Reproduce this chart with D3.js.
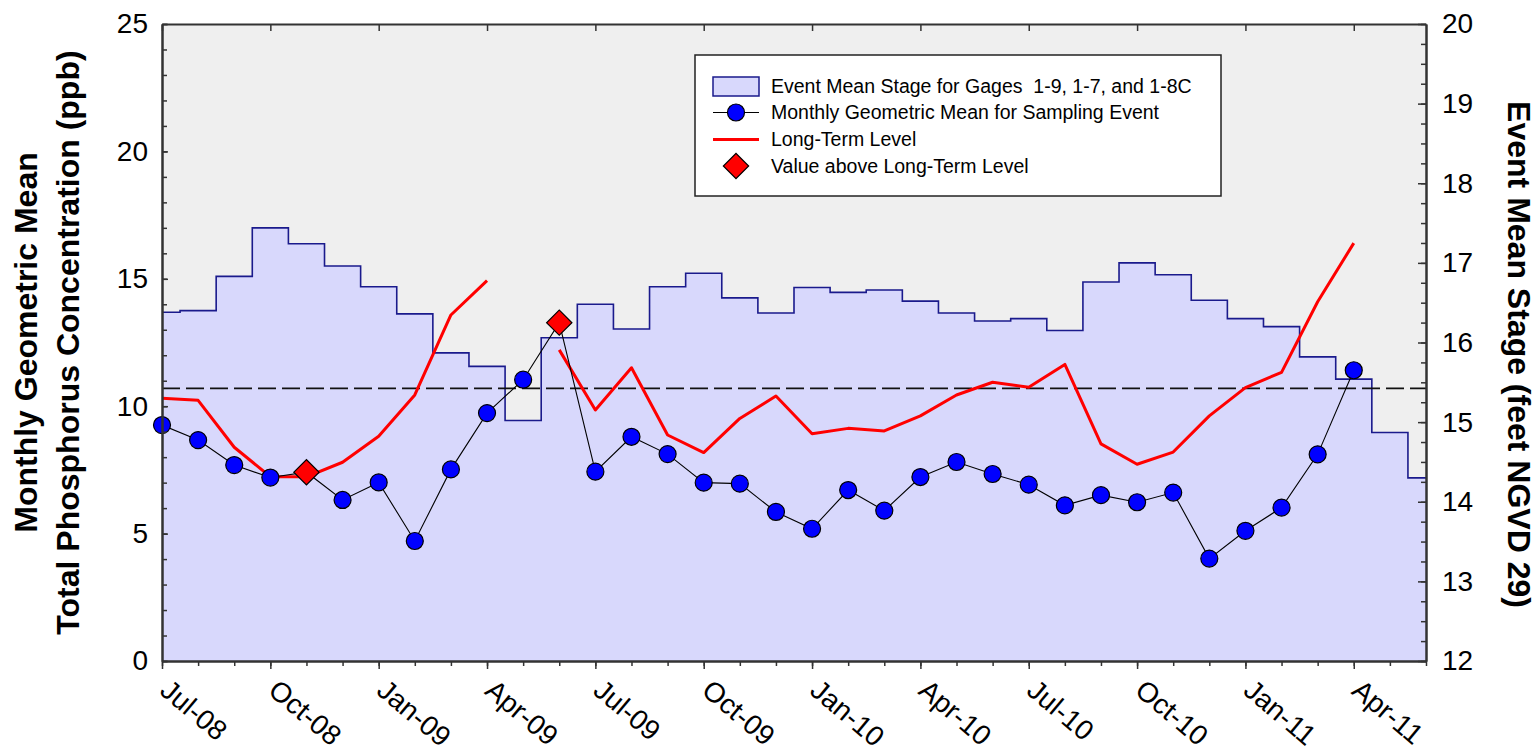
<!DOCTYPE html>
<html><head><meta charset="utf-8">
<script src="https://cdn.jsdelivr.net/npm/d3@7"></script>
<style>
body{margin:0;background:#fff;}
text{font-family:"Liberation Sans",Arial,Helvetica,sans-serif;fill:#000;}
</style>
</head><body>
<svg id="chart" width="1539" height="753"></svg>
<script>
// ---------- data ----------
const months = ["Jul-08","Aug-08","Sep-08","Oct-08","Nov-08","Dec-08","Jan-09","Feb-09","Mar-09","Apr-09","May-09","Jun-09",
                "Jul-09","Aug-09","Sep-09","Oct-09","Nov-09","Dec-09","Jan-10","Feb-10","Mar-10","Apr-10","May-10","Jun-10",
                "Jul-10","Aug-10","Sep-10","Oct-10","Nov-10","Dec-10","Jan-11","Feb-11","Mar-11","Apr-11","May-11","Jun-11"];
const xTickLabels = ["Jul-08","Oct-08","Jan-09","Apr-09","Jul-09","Oct-09","Jan-10","Apr-10","Jul-10","Oct-10","Jan-11","Apr-11"];
// Event mean stage (feet NGVD 29), right axis, one per month
const stage = [16.38,16.40,16.83,17.44,17.24,16.96,16.70,16.36,15.87,15.70,15.02,16.06,
               16.48,16.17,16.70,16.87,16.56,16.37,16.69,16.63,16.66,16.52,16.37,16.27,
               16.30,16.15,16.76,17.00,16.85,16.53,16.30,16.20,15.82,15.54,14.87,14.30];
// Monthly geometric mean TP (ppb), left axis
const geoMean = [9.26,8.67,7.69,7.20,7.41,6.32,7.01,4.71,7.52,9.73,11.04,13.28,
                 7.43,8.80,8.12,7.00,6.96,5.85,5.19,6.71,5.90,7.22,7.81,7.34,
                 6.92,6.11,6.51,6.23,6.61,4.02,5.11,6.02,8.11,11.41];
// Long-term level (ppb), left axis; null = no value
const longTerm = [10.31,10.23,8.39,7.23,7.23,7.80,8.82,10.44,13.58,14.93,null,12.21,
                  9.85,11.51,8.87,8.18,9.52,10.40,8.92,9.13,9.03,9.62,10.44,10.94,
                  10.74,11.64,8.52,7.72,8.20,9.62,10.73,11.33,14.10,16.40];
const referenceLevel = 10.7;
const leftTicks = [0,5,10,15,20,25];
const rightTicks = [12,13,14,15,16,17,18,19,20];
const legendLabels = ["Event Mean Stage for Gages  1-9, 1-7, and 1-8C",
                      "Monthly Geometric Mean for Sampling Event",
                      "Long-Term Level",
                      "Value above Long-Term Level"];

// ---------- layout ----------
const m = {l:162, r:1426, t:24, b:661};
const svg = d3.select("#chart");
const x = d3.scaleLinear().domain([0, months.length-1]).range([m.l, m.r]);
const yL = d3.scaleLinear().domain([0,25]).range([m.b, m.t]);
const yR = d3.scaleLinear().domain([12,20]).range([m.b, m.t]);

const C = {bg:"#efefef", fill:"#d8d8fc", stepLine:"#1a1a8c", red:"#ff0000", blue:"#0000ff", axis:"#333"};

svg.append("defs").append("clipPath").attr("id","clip")
  .append("rect").attr("x",m.l).attr("y",m.t).attr("width",m.r-m.l).attr("height",m.b-m.t);

svg.append("rect").attr("x",m.l).attr("y",m.t).attr("width",m.r-m.l).attr("height",m.b-m.t).attr("fill",C.bg);

const g = svg.append("g").attr("clip-path","url(#clip)");
const idx = d3.range(stage.length);
g.append("path").datum(idx)
  .attr("d", d3.area().x(i=>x(i)).y0(m.b).y1(i=>yR(stage[i])).curve(d3.curveStep))
  .attr("fill", C.fill);
g.append("path").datum(idx)
  .attr("d", d3.line().x(i=>x(i)).y(i=>yR(stage[i])).curve(d3.curveStep))
  .attr("fill","none").attr("stroke",C.stepLine).attr("stroke-width",1.6);

// reference dashed line
g.append("line").attr("x1",m.l).attr("x2",m.r)
  .attr("y1",yL(referenceLevel)).attr("y2",yL(referenceLevel))
  .attr("stroke","#111").attr("stroke-width",1.6).attr("stroke-dasharray","18,6");

// long-term level
g.append("path").datum(longTerm)
  .attr("d", d3.line().defined(d=>d!=null).x((d,i)=>x(i)).y(d=>yL(d)))
  .attr("fill","none").attr("stroke",C.red).attr("stroke-width",3).attr("stroke-linejoin","round");

// geometric mean line
g.append("path").datum(geoMean)
  .attr("d", d3.line().x((d,i)=>x(i)).y(d=>yL(d)))
  .attr("fill","none").attr("stroke","#000").attr("stroke-width",1.1);

const pts = geoMean.map((v,i)=>({i, v, above: longTerm[i]!=null && v>longTerm[i]}));
svg.append("g").selectAll("circle").data(pts.filter(d=>!d.above)).join("circle")
  .attr("cx",d=>x(d.i)).attr("cy",d=>yL(d.v)).attr("r",8.5)
  .attr("fill",C.blue).attr("stroke","#000").attr("stroke-width",1.2);
const diamond = d3.symbol(d3.symbolSquare, 320);
svg.append("g").selectAll("path").data(pts.filter(d=>d.above)).join("path")
  .attr("d", diamond)
  .attr("transform", d=>`translate(${x(d.i)},${yL(d.v)}) rotate(45)`)
  .attr("fill",C.red).attr("stroke","#000").attr("stroke-width",1.2);

// ---------- axes ----------
function styleAxis(sel){
  sel.select(".domain").attr("stroke",C.axis).attr("stroke-width",2);
  sel.selectAll(".tick line").attr("stroke",C.axis).attr("stroke-width",1.5);
  sel.selectAll(".tick text").attr("font-size",28).attr("fill","#000")
     .attr("font-family",'"Liberation Sans",Arial,sans-serif');
}
// bottom
svg.append("g").attr("transform",`translate(0,${m.b})`)
  .call(d3.axisBottom(x).tickValues(d3.range(0,months.length)).tickSize(5).tickSizeOuter(0).tickFormat(""))
  .call(styleAxis);
const bx = svg.append("g").attr("transform",`translate(0,${m.b})`)
  .call(d3.axisBottom(x).tickValues(xTickLabels.map(l=>months.indexOf(l))).tickSize(8).tickSizeOuter(0)
        .tickFormat(i=>months[i]))
  .call(styleAxis);
bx.selectAll(".tick text").attr("x",0).attr("y",0).attr("dy",0)
  .attr("text-anchor","start").attr("transform","translate(-4,32) rotate(40)");
// top
svg.append("g").attr("transform",`translate(0,${m.t})`)
  .call(d3.axisTop(x).tickValues(xTickLabels.map(l=>months.indexOf(l))).tickSize(-7).tickSizeOuter(0).tickFormat(""))
  .call(styleAxis);
// left
svg.append("g").attr("transform",`translate(${m.l},0)`)
  .call(d3.axisLeft(yL).tickValues(d3.range(0,26)).tickSize(-5).tickSizeOuter(0).tickFormat(""))
  .call(styleAxis);
svg.append("g").attr("transform",`translate(${m.l},0)`)
  .call(d3.axisLeft(yL).tickValues(leftTicks).tickSize(-6).tickSizeOuter(0).tickPadding(14).tickFormat(d3.format("d")))
  .call(styleAxis);
// right
svg.append("g").attr("transform",`translate(${m.r},0)`)
  .call(d3.axisRight(yR).tickValues(d3.range(12,20.001,0.25)).tickSize(-5).tickSizeOuter(0).tickFormat(""))
  .call(styleAxis);
svg.append("g").attr("transform",`translate(${m.r},0)`)
  .call(d3.axisRight(yR).tickValues(rightTicks).tickSize(-8).tickSizeOuter(0).tickPadding(16).tickFormat(d3.format("d")))
  .call(styleAxis);

// ---------- titles ----------
const tl = svg.append("text").attr("transform",`translate(0,${(m.t+m.b)/2}) rotate(-90)`)
  .attr("text-anchor","middle").attr("font-weight","bold").attr("font-size",32);
tl.append("tspan").attr("x",0).attr("y",37).text("Monthly Geometric Mean");
tl.append("tspan").attr("x",0).attr("y",79).text("Total Phosphorus Concentration (ppb)");
svg.append("text").attr("transform",`translate(1508,${(m.t+m.b)/2+12}) rotate(90)`)
  .attr("text-anchor","middle").attr("font-weight","bold").attr("font-size",32)
  .text("Event Mean Stage (feet NGVD 29)");

// ---------- legend ----------
const lg = svg.append("g");
lg.append("rect").attr("x",695).attr("y",55).attr("width",526).attr("height",141)
  .attr("fill","#fff").attr("stroke","#222").attr("stroke-width",1.5);
const rowY = [86.5, 112.5, 139.5, 166];
lg.append("rect").attr("x",713).attr("y",77).attr("width",46).attr("height",19)
  .attr("fill",C.fill).attr("stroke",C.stepLine).attr("stroke-width",1.5);
lg.append("line").attr("x1",713).attr("x2",759).attr("y1",rowY[1]).attr("y2",rowY[1]).attr("stroke","#000").attr("stroke-width",1.1);
lg.append("circle").attr("cx",736).attr("cy",rowY[1]).attr("r",8.5).attr("fill",C.blue).attr("stroke","#000").attr("stroke-width",1.2);
lg.append("line").attr("x1",713).attr("x2",759).attr("y1",rowY[2]).attr("y2",rowY[2]).attr("stroke",C.red).attr("stroke-width",3);
lg.append("path").attr("d",diamond).attr("transform",`translate(736,${rowY[3]}) rotate(45)`)
  .attr("fill",C.red).attr("stroke","#000").attr("stroke-width",1.2);
lg.selectAll("text.lt").data(legendLabels).join("text").attr("class","lt")
  .attr("x",771).attr("y",(d,i)=>rowY[i]).attr("dy","0.35em").attr("font-size",19.5)
  .style("white-space","pre").text(d=>d);
</script>
</body></html>
